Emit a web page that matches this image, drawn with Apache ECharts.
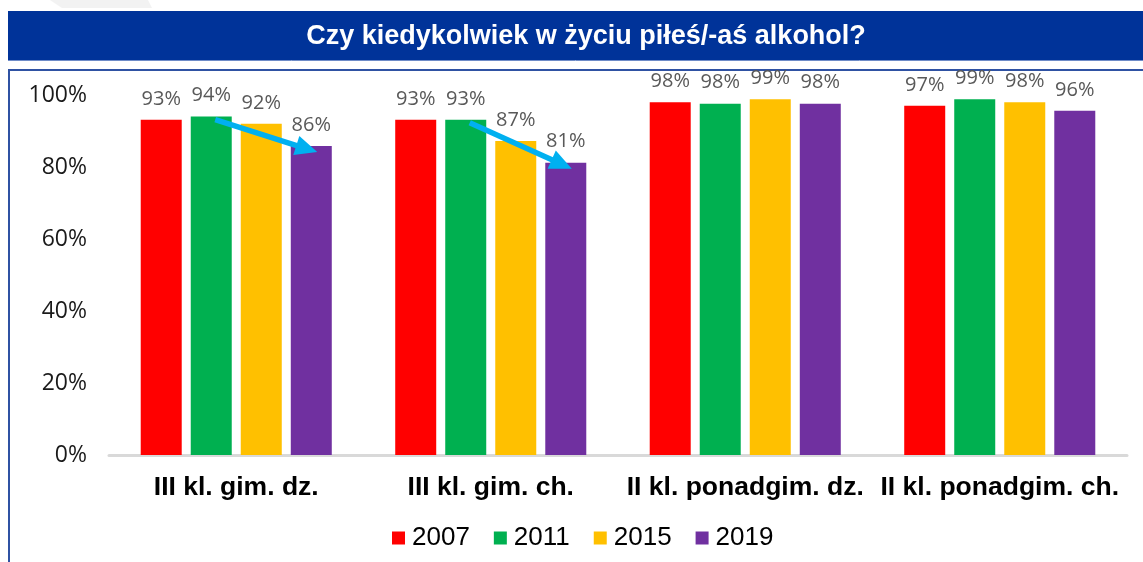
<!DOCTYPE html>
<html><head><meta charset="utf-8">
<script src="https://cdn.jsdelivr.net/npm/echarts@6/dist/echarts.min.js"></script>
<style>html,body{margin:0;padding:0;background:#fff}#c{width:1143px;height:562px}</style>
</head><body><div id="c"></div>
<script>
const titleText = 'Czy kiedykolwiek w życiu piłeś/-aś alkohol?';
const categories = ['III kl. gim. dz.', 'III kl. gim. ch.', 'II kl. ponadgim. dz.', 'II kl. ponadgim. ch.'];
const years = ['2007', '2011', '2015', '2019'];
const v2007 = [93.1, 93.1, 98.0, 97.0];
const v2011 = [94.0, 93.1, 97.6, 98.8];
const v2015 = [92.0, 87.2, 98.8, 98.0];
const v2019 = [85.8, 81.2, 97.6, 95.6];
const yTicks = [0, 20, 40, 60, 80, 100];
const colors = ['#FF0000', '#00B050', '#FFC000', '#7030A0'];
// trend arrows: from the 2011 bar to the 2019 bar in a category
const arrows = [{cat: 0, from: 1, to: 3}, {cat: 1, from: 1, to: 3}];

const seriesValues = [v2007, v2011, v2015, v2019];
const chart = echarts.init(document.getElementById('c'), null, {renderer: 'canvas'});

const staticGraphics = [
  {type: 'polygon', shape: {points: [[50, 0], [148, 0], [152, 8], [62, 8]]}, style: {fill: '#f2f2f2'}, z: 1},
  {type: 'rect', shape: {x: 8, y: 11, width: 1140, height: 49}, style: {fill: '#003399'}, z: 1},
  {type: 'line', shape: {x1: 8, y1: 60.5, x2: 1143, y2: 60.5}, style: {stroke: '#6f8cc8', lineWidth: 1}, z: 1},
  {type: 'text', x: 586, y: 37, style: {text: titleText, fill: '#ffffff', font: 'bold 27px "Liberation Sans", Arial, sans-serif', align: 'center', verticalAlign: 'middle'}, z: 2},
  {type: 'rect', shape: {x: 9, y: 70, width: 1200, height: 600}, style: {fill: 'none', stroke: '#2f52a3', lineWidth: 2}, z: 1}
];

chart.setOption({
  animation: false,
  backgroundColor: '#ffffff',
  color: colors,
  grid: {left: 109, right: 16, top: 95, bottom: 107, containLabel: false},
  legend: {
    data: years, left: 387, top: 520, icon: 'rect', itemWidth: 13, itemHeight: 13, itemGap: 24,
    textStyle: {fontFamily: '"Liberation Sans", Arial, sans-serif', fontSize: 26, color: '#000000', padding: [0, 0, 0, 2]}
  },
  xAxis: {
    type: 'category', data: categories,
    axisLine: {lineStyle: {color: '#d9d9d9', width: 3}},
    axisTick: {show: false},
    axisLabel: {interval: 0, margin: 19, fontFamily: '"Liberation Sans", Arial, sans-serif', fontWeight: 'bold', fontSize: 26.5, color: '#000000'}
  },
  yAxis: {
    type: 'value', min: yTicks[0], max: yTicks[yTicks.length - 1], interval: yTicks[1] - yTicks[0],
    axisLine: {show: false}, axisTick: {show: false}, splitLine: {show: false},
    axisLabel: {formatter: '{value}%', margin: 22, fontFamily: '"Open Sans", sans-serif', fontSize: 23, color: '#1a1a1a'}
  },
  graphic: staticGraphics,
  series: years.map((y, i) => ({
    name: y, type: 'bar', data: seriesValues[i], barWidth: 41, barGap: '22%',
    itemStyle: {color: colors[i]},
    label: {show: true, position: 'top', distance: 11, formatter: p => Math.round(p.value) + '%', fontFamily: '"Open Sans", sans-serif', fontSize: 20, color: '#595959'}
  }))
});

function addArrows() {
  const model = chart.getModel();
  const g = [];
  arrows.forEach(a => {
    const l1 = model.getSeriesByIndex(a.from).getData().getItemLayout(a.cat);
    const l2 = model.getSeriesByIndex(a.to).getData().getItemLayout(a.cat);
    const x1 = l1.x + l1.width / 2 + 4, y1 = Math.min(l1.y, l1.y + l1.height) + 3;
    const x2 = l2.x + l2.width / 2 + 6, y2 = Math.min(l2.y, l2.y + l2.height) + 6;
    const dx = x2 - x1, dy = y2 - y1, len = Math.sqrt(dx * dx + dy * dy);
    const ux = dx / len, uy = dy / len, hl = 22, hw = 10;
    const bx = x2 - ux * hl, by = y2 - uy * hl;
    g.push({type: 'line', shape: {x1: x1, y1: y1, x2: bx + ux * 2, y2: by + uy * 2}, style: {stroke: '#00B0F0', lineWidth: 5.5}, z: 10});
    g.push({type: 'polygon', shape: {points: [[x2, y2], [bx - uy * hw, by + ux * hw], [bx + uy * hw, by - ux * hw]]}, style: {fill: '#00B0F0'}, z: 10});
  });
  chart.setOption({graphic: staticGraphics.concat(g)});
}
addArrows();
</script>
</body></html>
